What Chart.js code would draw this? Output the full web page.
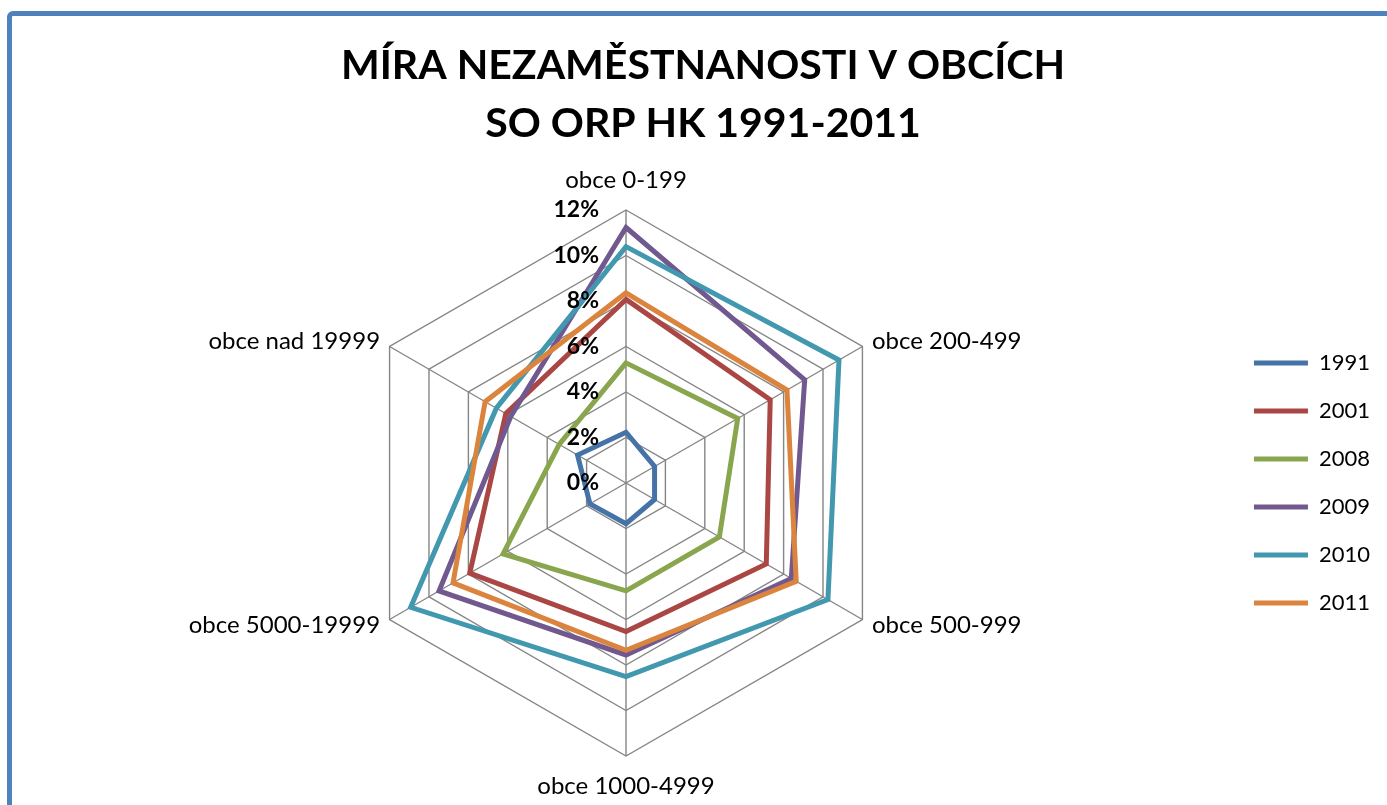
<!DOCTYPE html>
<html>
<head>
<meta charset="utf-8">
<script src="https://cdn.jsdelivr.net/npm/chart.js@4.4.1/dist/chart.umd.min.js"></script>
<style>
  html, body { margin: 0; padding: 0; background: #fff; overflow: hidden; }
  #frame {
    position: absolute; left: 7px; top: 11px; width: 1420px; height: 840px;
    border: 5px solid #4F81BD; border-radius: 6px; background: #fff;
  }
  #radarChart { position: absolute; left: 0; top: 0; }
</style>
</head>
<body>
<div id="frame"></div>
<canvas id="radarChart" width="1387" height="805"></canvas>
<script>
const categories = ['obce 0-199', 'obce 200-499', 'obce 500-999', 'obce 1000-4999', 'obce 5000-19999', 'obce nad 19999'];
const tickValues = [0, 2, 4, 6, 8, 10, 12];

// míra nezaměstnanosti v %
const y1991 = [2.23, 1.45, 1.45, 1.79, 1.83, 2.46];
const y2001 = [8.07, 7.32, 7.12, 6.53, 7.93, 6.10];
const y2008 = [5.28, 5.67, 4.74, 4.74, 6.24, 3.39];
const y2009 = [11.23, 9.07, 8.39, 7.56, 9.49, 5.85];
const y2010 = [10.39, 10.81, 10.25, 8.51, 10.93, 6.58];
const y2011 = [8.36, 8.17, 8.64, 7.35, 8.78, 7.15];

const seriesNames = ['1991', '2001', '2008', '2009', '2010', '2011'];
const seriesData = [y1991, y2001, y2008, y2009, y2010, y2011];
const seriesColors = ['#4572A7', '#AA4643', '#89A54E', '#71588F', '#4198AF', '#DB843D'];

// popisky os a procenta kreslíme sami (0 % chart.js vynechává)
const labelPlugin = {
  id: 'radarLabels',
  afterDatasetsDraw(chart) {
    const r = chart.scales.r;
    const ctx = chart.ctx;
    ctx.save();
    ctx.fillStyle = '#000';
    ctx.textBaseline = 'middle';
    ctx.font = 'bold 23px Lato';
    ctx.textAlign = 'right';
    tickValues.forEach(v => {
      ctx.fillText(v + '%', r.xCenter - 27, r.yCenter - r.getDistanceFromCenterForValue(v));
    });
    ctx.font = '24px Lato';
    categories.forEach((c, i) => {
      const vertical = (i === 0 || i === 3);
      const p = r.getPointPosition(i, r.drawingArea + (vertical ? 30 : 11));
      ctx.textAlign = vertical ? 'center' : (p.x > r.xCenter ? 'left' : 'right');
      ctx.fillText(c, p.x, p.y);
    });
    ctx.restore();
  }
};

const ctx = document.getElementById('radarChart').getContext('2d');

const radarChart = new Chart(ctx, {
  type: 'radar',
  data: {
    labels: categories,
    datasets: seriesNames.map((name, i) => ({
      label: name,
      data: seriesData[i],
      borderColor: seriesColors[i],
      backgroundColor: seriesColors[i],
      borderWidth: 5,
      borderCapStyle: 'round',
      pointRadius: 0,
      pointHoverRadius: 0,
      fill: false,
      tension: 0,
      order: seriesNames.length - i   // pozdější rok nahoře jako v Excelu
    }))
  },
  options: {
    responsive: false,
    animation: false,
    layout: { padding: { left: 26, right: 7, top: 0, bottom: 49 } },
    scales: {
      r: {
        min: 0,
        max: 12,
        ticks: { stepSize: 2, display: false },
        grid: { color: '#858585', lineWidth: 1.4 },
        angleLines: { color: '#858585', lineWidth: 1.4 },
        pointLabels: { display: false }
      }
    },
    plugins: {
      title: {
        display: true,
        text: ['MÍRA NEZAMĚSTNANOSTI V OBCÍCH', 'SO ORP HK 1991-2011'],
        color: '#000',
        font: { family: 'Lato', size: 41, weight: 'bold', lineHeight: 58 / 41 },
        padding: { top: 37, bottom: 57 }
      },
      legend: {
        position: 'right',
        fullSize: false,
        labels: {
          usePointStyle: true,
          pointStyle: 'line',
          pointStyleWidth: 54,
          padding: 26,
          color: '#000',
          font: { family: 'Lato', size: 22 },
          sort: (a, b) => a.datasetIndex - b.datasetIndex
        }
      },
      tooltip: { enabled: false }
    }
  },
  plugins: [labelPlugin]
});
</script>
</body>
</html>
